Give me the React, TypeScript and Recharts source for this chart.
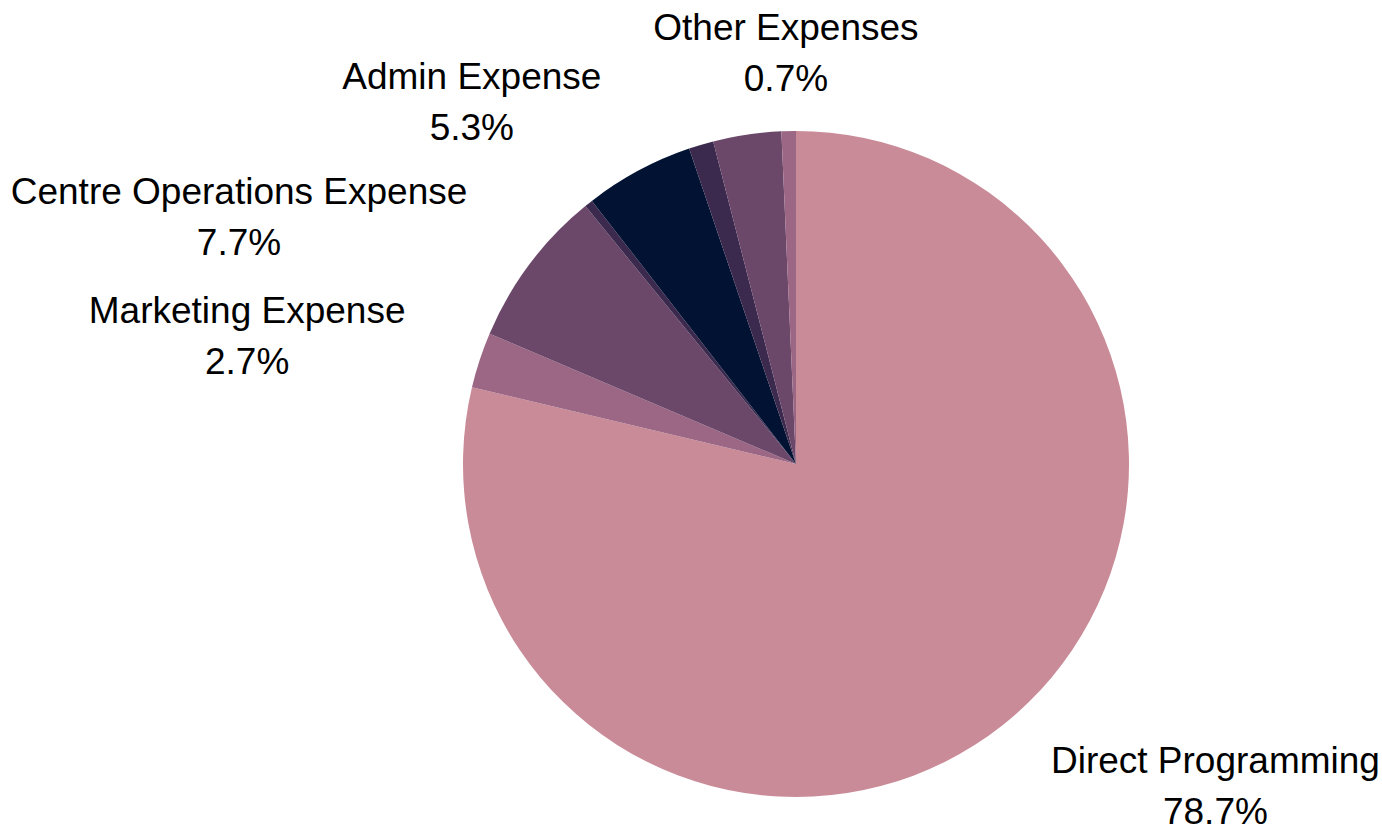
import React from 'react';
import { PieChart, Pie, Cell } from 'recharts';

const categories = [
  'Direct Programming',
  'Marketing Expense',
  'Centre Operations Expense',
  'Fundraising Expense',
  'Admin Expense',
  'Occupancy Expense',
  'Depreciation',
  'Other Expenses',
];
const shares = [78.7, 2.7, 7.7, 0.4, 5.3, 1.2, 3.3, 0.7];
const sliceColors = ['#c98b98', '#9c6784', '#6b476a', '#3b2a4e', '#011233', '#3b2a4e', '#6b476a', '#9c6784'];
const labelled = ['Direct Programming', 'Marketing Expense', 'Centre Operations Expense', 'Admin Expense', 'Other Expenses'];

const data = categories.map((name, i) => ({ name, value: shares[i] }));

const RADIAN = Math.PI / 180;
const FONT_SIZE = 37;
const FONT = "'Liberation Sans', Arial, sans-serif";

let ctx: CanvasRenderingContext2D | null = null;
const measure = (s: string) => {
  if (!ctx) {
    ctx = document.createElement('canvas').getContext('2d');
  }
  if (!ctx) return s.length * FONT_SIZE * 0.5;
  ctx.font = `${FONT_SIZE}px ${FONT}`;
  return ctx.measureText(s).width;
};

const renderLabel = (props: any) => {
  const { cx, cy, midAngle, outerRadius, name, value } = props;
  if (!labelled.includes(name)) return null;
  const pct = `${value.toFixed(1)}%`;
  const r = outerRadius + 78;
  const cos = Math.cos(-midAngle * RADIAN);
  const sin = Math.sin(-midAngle * RADIAN);
  const x = cx + r * cos;
  const y = cy + r * sin;
  const w = Math.max(measure(name), measure(pct));
  // block is aligned by its edge, lines centred inside it
  const bx = cos > 0.1 ? x + w / 2 : cos < -0.1 ? x - w / 2 : x - 1;
  return (
    <text x={bx} y={y} textAnchor="middle" fill="#000" fontSize={FONT_SIZE} fontFamily={FONT}>
      <tspan x={bx} dy={-13}>{name}</tspan>
      <tspan x={bx} dy={51}>{pct}</tspan>
    </text>
  );
};

export default function App() {
  return (
    <div style={{ position: 'absolute', left: 0, top: 0, background: '#fff' }}>
      <PieChart width={1382} height={832} margin={{ top: 0, right: 0, bottom: 0, left: 0 }}>
        <Pie
          data={data}
          dataKey="value"
          nameKey="name"
          cx={796}
          cy={464}
          outerRadius={333}
          startAngle={90}
          endAngle={-270}
          stroke="none"
          label={renderLabel}
          labelLine={false}
          isAnimationActive={false}
        >
          {data.map((d, i) => (
            <Cell key={d.name} fill={sliceColors[i]} />
          ))}
        </Pie>
      </PieChart>
    </div>
  );
}
